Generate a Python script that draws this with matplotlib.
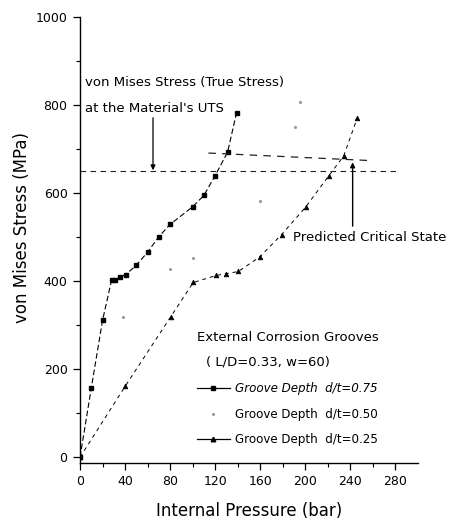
import matplotlib
matplotlib.use("Agg")
import matplotlib.pyplot as plt
from matplotlib.lines import Line2D

plt.rcParams['font.family'] = ['DejaVu Sans']

# Groove depth d/t = 0.75
p75 = [0, 10, 20, 28, 31, 35.5, 40.5, 50, 60, 70, 80, 100, 110, 120, 131, 139]
s75 = [0, 157, 311, 402, 403, 409, 415, 436, 466, 501, 529, 569, 595, 640, 693, 783]

# Groove depth d/t = 0.50
p50 = [0, 38.5, 80, 100.5, 160, 191, 195]
s50 = [0, 318, 427, 453, 583, 750, 807]

# Groove depth d/t = 0.25
p25 = [0, 40, 80.5, 100.5, 121, 130, 140.5, 159.5, 179, 200.5, 221, 234, 246]
s25 = [0, 161, 319, 397, 413, 417, 422, 455, 506, 569, 640, 684, 770]

uts_stress = 650
uts_pressure_range = [0, 282]
critical_pressure = [114, 257]
critical_stress = [691, 674]

xticks = [0, 40, 80, 120, 160, 200, 240, 280]
yticks = [0, 200, 400, 600, 800, 1000]

fig = plt.figure(figsize=(4.51, 5.25), dpi=100)
ax = fig.add_axes([0.1774, 0.1181, 0.7494, 0.8495])

ax.plot(p75, s75, color='black', lw=0.8, ls=(0, (5, 2.5)),
        marker='s', ms=3.2, mfc='black', mec='black')
ax.plot(p50, s50, ls='none', marker='.', ms=2.5, color='#9a9a9a')
ax.plot(p25, s25, color='black', lw=0.7, ls=(0, (4, 4)),
        marker='^', ms=3.3, mfc='black', mec='black', mew=0.6)

ax.plot(uts_pressure_range, [uts_stress, uts_stress], color='#222222',
        lw=0.8, ls=(0, (5, 4)))
ax.plot(critical_pressure, critical_stress, color='#222222',
        lw=0.9, ls=(0, (6, 5)))

txt = dict(fontsize=9.5, va='center')
ax.text(4.5, 852, "von Mises Stress (True Stress)", **txt)
ax.text(4.5, 793, "at the Material's UTS", **txt)
ax.annotate('', xy=(64.8, uts_stress + 2), xytext=(64.8, 771),
            arrowprops=dict(arrowstyle='-|>', color='black', lw=0.9,
                            mutation_scale=7, shrinkA=0, shrinkB=0))

ax.text(189, 500, "Predicted Critical State", **txt)
ax.annotate('', xy=(242, 670), xytext=(242, 525),
            arrowprops=dict(arrowstyle='-|>', color='black', lw=1.0,
                            mutation_scale=7, shrinkA=0, shrinkB=0))

ax.text(104, 273, "External Corrosion Grooves", **txt)
ax.text(112, 216, "( L/D=0.33, w=60)", **txt)

handles = [
    Line2D([], [], color='black', lw=0.9, marker='s', ms=3.2),
    Line2D([], [], ls='none', marker='.', ms=2.5, color='#9a9a9a'),
    Line2D([], [], color='black', lw=0.9, marker='^', ms=3.3),
]
labels = ["Groove Depth  d/t=0.75", "Groove Depth  d/t=0.50",
          "Groove Depth  d/t=0.25"]
leg = ax.legend(handles, labels, loc='upper left',
                bbox_to_anchor=(0.346, 0.181), frameon=False, fontsize=8.6,
                handlelength=2.75, handletextpad=0.4, labelspacing=1.05,
                borderpad=0, borderaxespad=0, numpoints=1)
leg.get_texts()[0].set_fontstyle('italic')

ax.set_xlim(0, 300)
ax.set_ylim(-13, 1000)
ax.set_xticks(xticks)
ax.set_xticks(range(20, 300, 40), minor=True)
ax.set_yticks(yticks)
ax.set_yticks(range(100, 1000, 200), minor=True)
ax.tick_params(axis='both', which='major', direction='out', length=5,
               width=0.9, labelsize=9, pad=4)
ax.tick_params(axis='both', which='minor', direction='out', length=3,
               width=0.8)

for side in ('top', 'right'):
    ax.spines[side].set_visible(False)
for side in ('left', 'bottom'):
    ax.spines[side].set_linewidth(1.0)

ax.set_xlabel("Internal Pressure (bar)", fontsize=12, labelpad=10)
ax.set_ylabel("von Mises Stress (MPa)", fontsize=12)
ax.yaxis.set_label_coords(-0.145, 0.527)

fig.savefig("out.png", dpi=100)
